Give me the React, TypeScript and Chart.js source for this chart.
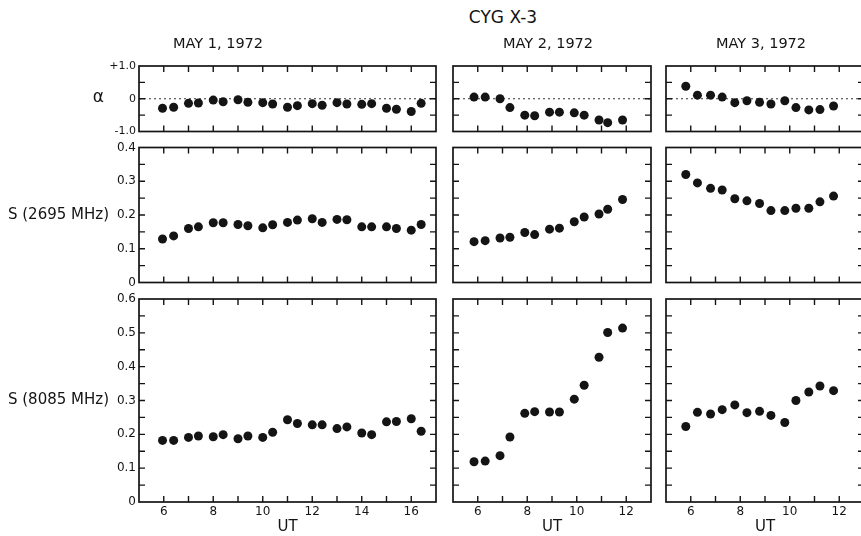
import React, { useEffect, useRef } from "react";
import { Chart, registerables } from "chart.js";

Chart.register(...registerables);

const FONT = "'DejaVu Sans', 'Liberation Sans', sans-serif";
const INK = "#141414";

// ---------- data ----------
const mainTitle = "CYG X-3";
const dayTitles = ["MAY 1, 1972", "MAY 2, 1972", "MAY 3, 1972"];
const rowLabels = ["α", "S (2695 MHz)", "S (8085 MHz)"];
const xAxisTitle = "UT";
const xMaxByDay = [17, 13, 13];

const may1Hours = [5.95, 6.4, 7.0, 7.4, 8.0, 8.4, 9.0, 9.4, 10.0, 10.4, 11.0, 11.4, 12.0, 12.4, 13.0, 13.4, 14.0, 14.4, 15.0, 15.4, 16.0, 16.4];
const may1Alpha = [-0.29, -0.26, -0.14, -0.13, -0.04, -0.09, -0.03, -0.11, -0.12, -0.16, -0.26, -0.21, -0.15, -0.2, -0.12, -0.16, -0.17, -0.15, -0.29, -0.32, -0.39, -0.14];
const may1S2695 = [0.129, 0.138, 0.16, 0.165, 0.177, 0.177, 0.172, 0.168, 0.162, 0.171, 0.178, 0.185, 0.189, 0.178, 0.187, 0.186, 0.165, 0.165, 0.165, 0.16, 0.155, 0.172];
const may1S8085 = [0.182, 0.182, 0.191, 0.195, 0.193, 0.199, 0.187, 0.195, 0.191, 0.206, 0.243, 0.232, 0.228, 0.228, 0.217, 0.222, 0.204, 0.199, 0.237, 0.238, 0.246, 0.209];

const may2Hours = [5.85, 6.3, 6.9, 7.3, 7.9, 8.3, 8.9, 9.3, 9.9, 10.3, 10.9, 11.25, 11.85];
const may2Alpha = [0.05, 0.05, 0.0, -0.27, -0.5, -0.52, -0.41, -0.41, -0.43, -0.5, -0.65, -0.73, -0.65];
const may2S2695 = [0.121, 0.124, 0.132, 0.134, 0.148, 0.142, 0.158, 0.161, 0.18, 0.194, 0.203, 0.217, 0.246];
const may2S8085 = [0.119, 0.121, 0.137, 0.192, 0.262, 0.267, 0.266, 0.266, 0.304, 0.345, 0.428, 0.501, 0.514];

const may3Hours = [5.8, 6.27, 6.8, 7.27, 7.78, 8.27, 8.78, 9.24, 9.8, 10.25, 10.77, 11.22, 11.77];
const may3Alpha = [0.38, 0.11, 0.11, 0.05, -0.12, -0.06, -0.11, -0.16, -0.06, -0.27, -0.34, -0.33, -0.22];
const may3S2695 = [0.32, 0.295, 0.279, 0.274, 0.248, 0.242, 0.234, 0.213, 0.213, 0.22, 0.22, 0.239, 0.256];
const may3S8085 = [0.223, 0.265, 0.26, 0.273, 0.287, 0.264, 0.268, 0.256, 0.235, 0.3, 0.325, 0.343, 0.329];

const hoursByDay = [may1Hours, may2Hours, may3Hours];
const valuesByRow = [
  [may1Alpha, may2Alpha, may3Alpha],
  [may1S2695, may2S2695, may3S2695],
  [may1S8085, may2S8085, may3S8085],
];

// y scale ranges per row: [min, max, step]
const yRanges: [number, number, number][] = [
  [-1, 1, 0.5],
  [0, 0.4, 0.05],
  [0, 0.6, 0.05],
];

// ---------- layout ----------
const COLS = [
  { cx: 0, cw: 445, L: 139, R: 436 },
  { cx: 445, cw: 213, L: 453, R: 651 },
  { cx: 658, cw: 214, L: 666, R: 864 },
];
const ROWS = [
  { cy: 26, ch: 113, T: 66, B: 131.5 },
  { cy: 139, ch: 152, T: 147.5, B: 282.5 },
  { cy: 291, ch: 245, T: 299, B: 502 },
];

const TICK_LEN = 6;

const framePlugin = {
  id: "frame",
  beforeDatasetsDraw(chart: any, _a: any, opts: any) {
    if (!opts.zeroLine) return;
    const { ctx, chartArea: a, scales } = chart;
    const y0 = scales.y.getPixelForValue(0);
    ctx.save();
    ctx.strokeStyle = "#333";
    ctx.lineWidth = 1;
    ctx.setLineDash([2, 3]);
    ctx.beginPath();
    ctx.moveTo(a.left, y0);
    ctx.lineTo(a.right, y0);
    ctx.stroke();
    ctx.restore();
  },
  afterDatasetsDraw(chart: any) {
    const { ctx, chartArea: a, scales } = chart;
    ctx.save();
    ctx.strokeStyle = INK;
    ctx.lineWidth = 1.7;
    ctx.strokeRect(a.left, a.top, a.right - a.left, a.bottom - a.top);
    ctx.lineWidth = 1.4;
    ctx.beginPath();
    const xs = scales.x;
    xs.ticks.forEach((t: any) => {
      if (t.value <= xs.min || t.value >= xs.max) return;
      const px = xs.getPixelForValue(t.value);
      ctx.moveTo(px, a.bottom);
      ctx.lineTo(px, a.bottom - TICK_LEN);
      ctx.moveTo(px, a.top);
      ctx.lineTo(px, a.top + TICK_LEN);
    });
    const ys = scales.y;
    ys.ticks.forEach((t: any) => {
      if (t.value <= ys.min + 1e-9 || t.value >= ys.max - 1e-9) return;
      const py = ys.getPixelForValue(t.value);
      ctx.moveTo(a.left, py);
      ctx.lineTo(a.left + TICK_LEN, py);
      ctx.moveTo(a.right, py);
      ctx.lineTo(a.right - TICK_LEN, py);
    });
    ctx.stroke();
    ctx.restore();
  },
};

const sideLabelPlugin = {
  id: "sideLabel",
  afterDraw(chart: any, _a: any, opts: any) {
    if (!opts.text) return;
    const { ctx, chartArea: a } = chart;
    ctx.save();
    ctx.fillStyle = INK;
    ctx.font = `${opts.size}px ${FONT}`;
    ctx.textAlign = "right";
    ctx.textBaseline = "middle";
    ctx.fillText(opts.text, opts.x, (a.top + a.bottom) / 2 + (opts.dy || 0));
    ctx.restore();
  },
};

function yTickLabel(row: number, v: number): string {
  if (row === 0) {
    if (Math.abs(v - 1) < 1e-9) return "+1.0";
    if (Math.abs(v) < 1e-9) return "0";
    if (Math.abs(v + 1) < 1e-9) return "-1.0";
    return "";
  }
  if (Math.abs(v * 10 - Math.round(v * 10)) > 1e-6) return "";
  if (Math.abs(v) < 1e-9) return "0";
  return v.toFixed(1);
}

function Panel({ row, col }: { row: number; col: number }) {
  const ref = useRef<HTMLCanvasElement>(null);
  const c = COLS[col];
  const r = ROWS[row];
  useEffect(() => {
    const hours = hoursByDay[col];
    const vals = valuesByRow[row][col];
    const [ymin, ymax, ystep] = yRanges[row];
    const titleSize = 14.5;
    const titleLH = titleSize * 1.2;
    const titleCenter = 44;
    const tPadTop = titleCenter - r.cy - titleLH / 2;
    const tPadBottom = r.T - r.cy - tPadTop - titleLH;
    const chart = new Chart(ref.current as HTMLCanvasElement, {
      type: "scatter",
      data: {
        datasets: [
          {
            data: hours.map((h, i) => ({ x: h, y: vals[i] })),
            backgroundColor: INK,
            borderWidth: 0,
            pointRadius: 4.5,
            pointHoverRadius: 4.5,
          },
        ],
      },
      plugins: [framePlugin, sideLabelPlugin],
      options: {
        animation: false,
        responsive: false,
        devicePixelRatio: 1,
        events: [],
        layout: {
          padding: {
            left: 0,
            right: c.cx + c.cw - c.R,
            top: row === 0 ? 0 : r.T - r.cy,
            bottom: 0,
          },
        },
        plugins: {
          legend: { display: false },
          tooltip: { enabled: false },
          title: {
            display: row === 0,
            text: dayTitles[col],
            color: INK,
            font: { family: FONT, size: titleSize, weight: "normal" },
            padding: { top: tPadTop, bottom: tPadBottom },
          },
          frame: { zeroLine: row === 0 },
          sideLabel: col === 0
            ? { text: rowLabels[row], x: row === 0 ? 104 : 109, size: row === 0 ? 17 : 15, dy: row === 0 ? -1 : 0 }
            : { text: "" },
        } as any,
        scales: {
          x: {
            type: "linear",
            min: 5,
            max: xMaxByDay[col],
            grid: { display: false, drawTicks: false },
            border: { display: false },
            ticks: {
              display: row === 2,
              stepSize: 1,
              autoSkip: false,
              maxRotation: 0,
              padding: 3,
              color: INK,
              font: { family: FONT, size: 12 },
              callback: (v: any) => (Number(v) % 2 === 0 ? String(v) : ""),
            },
            title: {
              display: row === 2,
              text: xAxisTitle,
              color: INK,
              font: { family: FONT, size: 15 },
              padding: { top: 0, bottom: 0 },
            },
            afterFit: (s: any) => {
              s.height = r.cy + r.ch - r.B;
              s.paddingLeft = 0;
              s.paddingRight = 0;
            },
          },
          y: {
            type: "linear",
            min: ymin,
            max: ymax,
            grid: { display: false, drawTicks: false },
            border: { display: false },
            ticks: {
              display: col === 0,
              stepSize: ystep,
              autoSkip: false,
              padding: 3,
              color: INK,
              font: { family: FONT, size: row === 0 ? 11 : 12 },
              callback: (v: any) => yTickLabel(row, Number(v)),
            },
            afterFit: (s: any) => {
              s.width = c.L - c.cx;
              s.paddingTop = 0;
              s.paddingBottom = 0;
            },
          },
        } as any,
      },
    } as any);
    return () => chart.destroy();
  }, [row, col]);
  return (
    <canvas
      ref={ref}
      width={c.cw}
      height={r.ch}
      style={{ position: "absolute", left: c.cx, top: r.cy, width: c.cw, height: r.ch }}
    />
  );
}

export default function App() {
  const panels: React.ReactNode[] = [];
  for (let row = 0; row < 3; row++) {
    for (let col = 0; col < 3; col++) {
      panels.push(<Panel key={`${row}-${col}`} row={row} col={col} />);
    }
  }
  return (
    <div
      style={{
        position: "absolute",
        left: 0,
        top: 0,
        width: 861,
        height: 536,
        overflow: "hidden",
        background: "#fff",
      }}
    >
      <div
        style={{
          position: "absolute",
          left: 403,
          top: 7,
          width: 200,
          textAlign: "center",
          fontFamily: FONT,
          fontSize: 17,
          lineHeight: "20px",
          color: INK,
        }}
      >
        {mainTitle}
      </div>
      {panels}
    </div>
  );
}
